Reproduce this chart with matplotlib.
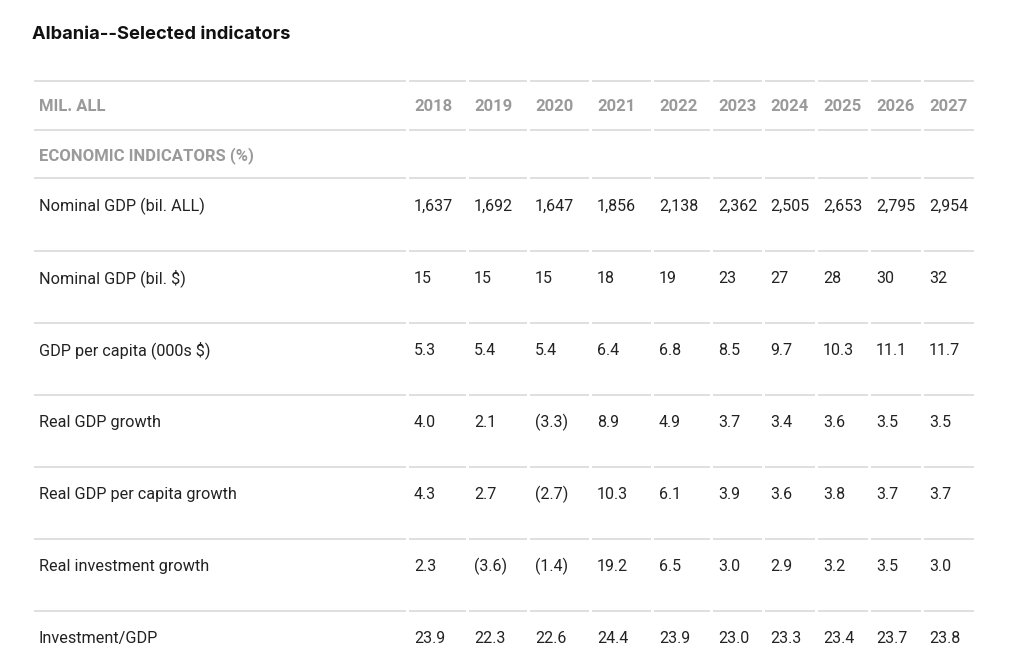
import matplotlib
matplotlib.use("Agg")
import matplotlib.pyplot as plt

title = "Albania--Selected indicators"
unit_label = "MIL. ALL"
section_label = "ECONOMIC INDICATORS (%)"
years = ["2018", "2019", "2020", "2021", "2022", "2023", "2024", "2025", "2026", "2027"]

row_labels = [
    "Nominal GDP (bil. ALL)",
    "Nominal GDP (bil. $)",
    "GDP per capita (000s $)",
    "Real GDP growth",
    "Real GDP per capita growth",
    "Real investment growth",
    "Investment/GDP",
]
nominal_gdp_all = [1637, 1692, 1647, 1856, 2138, 2362, 2505, 2653, 2795, 2954]
nominal_gdp_usd = [15, 15, 15, 18, 19, 23, 27, 28, 30, 32]
gdp_per_capita = [5.3, 5.4, 5.4, 6.4, 6.8, 8.5, 9.7, 10.3, 11.1, 11.7]
real_gdp_growth = [4.0, 2.1, -3.3, 8.9, 4.9, 3.7, 3.4, 3.6, 3.5, 3.5]
real_gdp_pc_growth = [4.3, 2.7, -2.7, 10.3, 6.1, 3.9, 3.6, 3.8, 3.7, 3.7]
real_invest_growth = [2.3, -3.6, -1.4, 19.2, 6.5, 3.0, 2.9, 3.2, 3.5, 3.0]
invest_gdp = [23.9, 22.3, 22.6, 24.4, 23.9, 23.0, 23.3, 23.4, 23.7, 23.8]
row_formats = ["comma", "int", "dec", "dec", "dec", "dec", "dec"]
row_values = [nominal_gdp_all, nominal_gdp_usd, gdp_per_capita, real_gdp_growth,
              real_gdp_pc_growth, real_invest_growth, invest_gdp]


def fmt(v, kind):
    a = abs(v)
    if kind == "comma":
        s = f"{a:,.0f}"
    elif kind == "int":
        s = f"{a:.0f}"
    else:
        s = f"{a:.1f}"
    return f"({s})" if v < 0 else s


plt.rcParams["font.family"] = ["Roboto", "DejaVu Sans"]

fig = plt.figure(figsize=(10.24, 6.72), dpi=100)
ax = fig.add_axes([0, 0, 1, 1])
ax.set_xlim(0, 1024)
ax.set_ylim(672, 0)
ax.axis("off")

col_edges = [34, 407, 467, 528, 590, 652, 711, 763, 816, 869, 922, 975]
line_ys = [81, 130, 178, 251, 323, 395, 467, 539, 611]
line_color = "#dcdcdc"
gap = 1.5
for y in line_ys:
    for i in range(len(col_edges) - 1):
        ax.plot([col_edges[i] + (0 if i == 0 else gap), col_edges[i + 1] - gap], [y, y],
                color=line_color, lw=1.3, solid_capstyle="butt")

ax.text(32, 39, title, fontsize=13.2, fontweight="bold", color="#111111",
        va="baseline", ha="left", family=["Inter", "DejaVu Sans"])

hdr_color = "#9a9a9a"
txt_color = "#222222"
label_x = 39
col_x = [e + 7 for e in col_edges[1:-1]]

# header row
ax.text(label_x, 111, unit_label, fontsize=12, fontweight="bold", color=hdr_color,
        va="baseline", ha="left")
for x, yr in zip(col_x, years):
    ax.text(x, 111, yr, fontsize=12, fontweight="bold", color=hdr_color,
            va="baseline", ha="left")

ax.text(label_x, 160, section_label, fontsize=12, fontweight="bold", color=hdr_color,
        va="baseline", ha="left")

row_baselines = [211, 283, 355, 427, 499, 571, 643]
for yb, lab, vals, kind in zip(row_baselines, row_labels, row_values, row_formats):
    ax.text(label_x, yb, lab, fontsize=11.7, color=txt_color, va="baseline", ha="left")
    for x, v in zip(col_x, vals):
        ax.text(x, yb, fmt(v, kind), fontsize=11.5, color=txt_color, va="baseline", ha="left")

fig.savefig("out.png", dpi=100, facecolor="white")
